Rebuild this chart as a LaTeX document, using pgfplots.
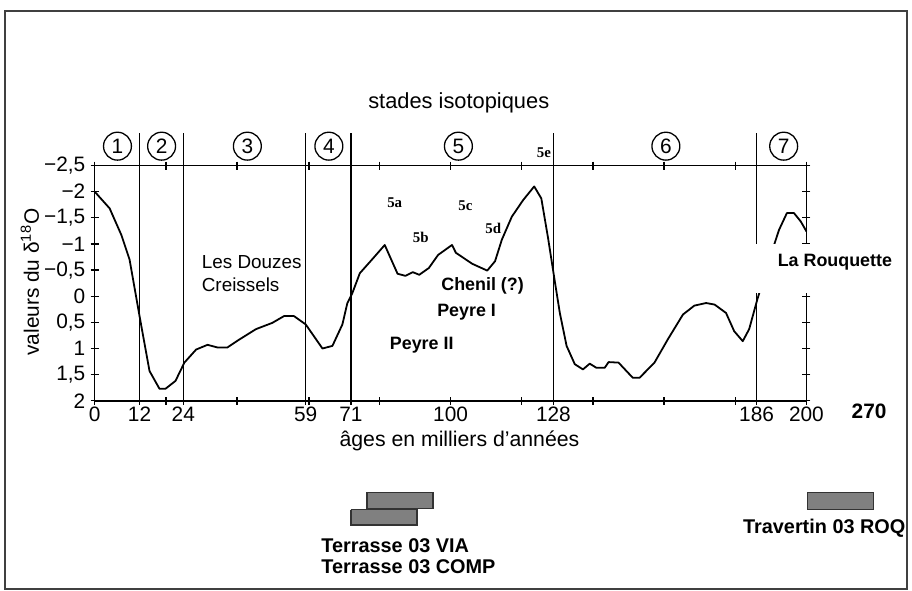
\documentclass[border=0pt]{standalone}
\usepackage{fontspec}
\setmainfont{Liberation Sans}
\newfontfamily\tnr{Liberation Serif}
\usepackage{pgfplots}
\usepackage{pgfplotstable}
\pgfplotsset{compat=1.18}

% courbe du delta 18O (ages en milliers d'annees, valeurs)
\pgfplotstableread{
age val
0 -2.0
4.2 -1.68
7.5 -1.17
9.8 -0.70
12.6 0.38
15.4 1.43
18.2 1.77
19.9 1.77
22.7 1.62
25.2 1.27
28.5 1.02
31.7 0.93
34.5 0.98
37.3 0.98
40.6 0.83
45.3 0.63
49.9 0.51
53.2 0.38
56.0 0.38
59.3 0.54
64.0 1.0
66.8 0.95
69.6 0.54
71.0 0.13
72.4 -0.06
74.5 -0.44
77.9 -0.70
81.5 -0.98
85.1 -0.43
87.3 -0.39
89.4 -0.46
91.2 -0.41
93.9 -0.54
96.5 -0.79
100.4 -0.98
101.5 -0.83
106.1 -0.62
110.3 -0.49
112.5 -0.67
114.4 -1.08
117.2 -1.52
120.4 -1.84
123.5 -2.10
125.5 -1.87
127.4 -1.11
129.3 -0.28
130.7 0.32
132.6 0.95
134.9 1.30
137.2 1.40
139.1 1.29
141.0 1.37
143.3 1.37
144.4 1.26
147.2 1.27
151.2 1.56
153.1 1.56
157.3 1.27
161.0 0.83
165.3 0.35
168.5 0.18
171.8 0.13
174.2 0.16
177.4 0.32
179.7 0.67
182.1 0.86
183.9 0.63
186.2 0.06
190.9 -0.98
192.3 -1.27
194.5 -1.59
196.5 -1.59
198.4 -1.43
200.0 -1.24
}\courbe

\definecolor{barre}{HTML}{808080}
\definecolor{bord}{HTML}{333333}

\begin{document}
\fontsize{10}{12}\selectfont
\begin{tikzpicture}[
  stade/.style={circle, draw, line width=0.65bp, inner sep=0pt, minimum size=14bp,
                font=\fontsize{10.5}{12}\selectfont},
  sous/.style={font=\tnr\bfseries\fontsize{7.5}{9}\selectfont},
  site/.style={font=\bfseries\fontsize{9}{11}\selectfont},
  limite/.style={black, line width=0.75bp},
]
\begin{axis}[
  scale only axis, width=357bp, height=118bp,
  xmin=0, xmax=200, ymin=-2.5, ymax=2, y dir=reverse,
  clip=false,
  axis line style={line width=0.8bp},
  tick align=center, major tick length=4bp,
  tick style={black, line width=0.7bp},
  % les limites sont placees comme sur le dessin d'origine
  xtick={0,12.6,20,24.9,40,59.3,60.2,72,80,100,120,128.9,140,160,180,186,200},
  xticklabels={0,12,{},24,{},59,{},71,{},100,{},128,{},{},{},186,200},
  ytick={-2.5,-2,-1.5,-1,-0.5,0,0.5,1,1.5,2},
  yticklabels={{−2,5},{−2},{−1,5},{−1},{−0,5},{0},{0,5},{1},{1,5},{2}},
  tick label style={font=\fontsize{10.5}{12}\selectfont},
  xticklabel style={inner sep=1bp},
  yticklabel style={inner sep=2.5bp},
]
% cadre et marges
\path (axis cs:-26.61,-5.666) rectangle (axis cs:228.85,5.623);
\draw[line width=1bp, black!75] (axis cs:-25.2,-5.465) rectangle (axis cs:228.3,5.604);

\addplot[black, line width=0.9bp, line join=round] table[x=age, y=val] {\courbe};

% limites des stades isotopiques
\addplot[limite] coordinates {(12.6,2) (12.6,-3.12)};
\addplot[limite] coordinates {(24.9,2) (24.9,-3.12)};
\addplot[limite] coordinates {(59.3,2) (59.3,-3.12)};
\addplot[limite] coordinates {(72,2) (72,-3.12)};
\addplot[limite] coordinates {(128.9,2) (128.9,-3.12)};
\addplot[limite] coordinates {(186,2) (186,-3.12)};

% numeros des stades
\node[stade] at (axis cs:6.4,-2.87) {1};
\node[stade] at (axis cs:18.8,-2.87) {2};
\node[stade] at (axis cs:42.9,-2.87) {3};
\node[stade] at (axis cs:65.8,-2.87) {4};
\node[stade] at (axis cs:102.2,-2.87) {5};
\node[stade] at (axis cs:160.5,-2.87) {6};
\node[stade] at (axis cs:193.6,-2.87) {7};
\node[font=\fontsize{11}{13}\selectfont] at (axis cs:102.3,-3.70) {stades isotopiques};

% sous-stades
\node[sous, anchor=east, inner sep=0.5bp] at (axis cs:128.6,-2.75) {5e};
\node[sous] at (axis cs:84.3,-1.78) {5a};
\node[sous] at (axis cs:91.6,-1.13) {5b};
\node[sous] at (axis cs:104.2,-1.74) {5c};
\node[sous] at (axis cs:112.0,-1.30) {5d};

% sites
\node[anchor=west, align=left, inner sep=0pt, font=\fontsize{9.5}{11.5}\selectfont] at (axis cs:30,-0.44) {Les Douzes\\Creissels};
\fill[white] (axis cs:92.4,-0.36) rectangle (axis cs:122.7,0.06);
\node[site] at (axis cs:109,-0.19) {Chenil (?)};
\node[site] at (axis cs:104.5,0.30) {Peyre I};
\node[site] at (axis cs:91.9,0.93) {Peyre II};
\fill[white] (axis cs:182.1,-0.99) rectangle (axis cs:225,-0.06);
\node[site] at (axis cs:208,-0.65) {La Rouquette};
\node[font=\bfseries\fontsize{10.5}{12}\selectfont] at (axis cs:217.6,2.21) {270};

% titres des axes
\node[font=\fontsize{10.7}{13}\selectfont] at (axis cs:102.5,2.77) {âges en milliers d’années};
\node[rotate=90, font=\fontsize{10.5}{12}\selectfont] at (axis cs:-18.2,-0.27) {valeurs du δ\textsuperscript{18}O};

% datations
\addplot[fill=barre, draw=bord, line width=0.75bp] coordinates {(76.5,3.75) (95.0,3.75) (95.0,4.06) (76.5,4.06) (76.5,3.75)};
\addplot[fill=barre, draw=bord, line width=0.75bp] coordinates {(72.0,4.08) (90.5,4.08) (90.5,4.38) (72.0,4.38) (72.0,4.08)};
\addplot[fill=barre, draw=bord, line width=0.75bp] coordinates {(200.3,3.75) (218.8,3.75) (218.8,4.08) (200.3,4.08) (200.3,3.75)};
\node[font=\bfseries, anchor=west, inner sep=0pt] at (axis cs:63.6,4.77) {Terrasse 03 VIA};
\node[font=\bfseries, anchor=west, inner sep=0pt] at (axis cs:63.6,5.17) {Terrasse 03 COMP};
\node[font=\bfseries] at (axis cs:205,4.44) {Travertin 03 ROQ};
\end{axis}
\end{tikzpicture}
\end{document}
